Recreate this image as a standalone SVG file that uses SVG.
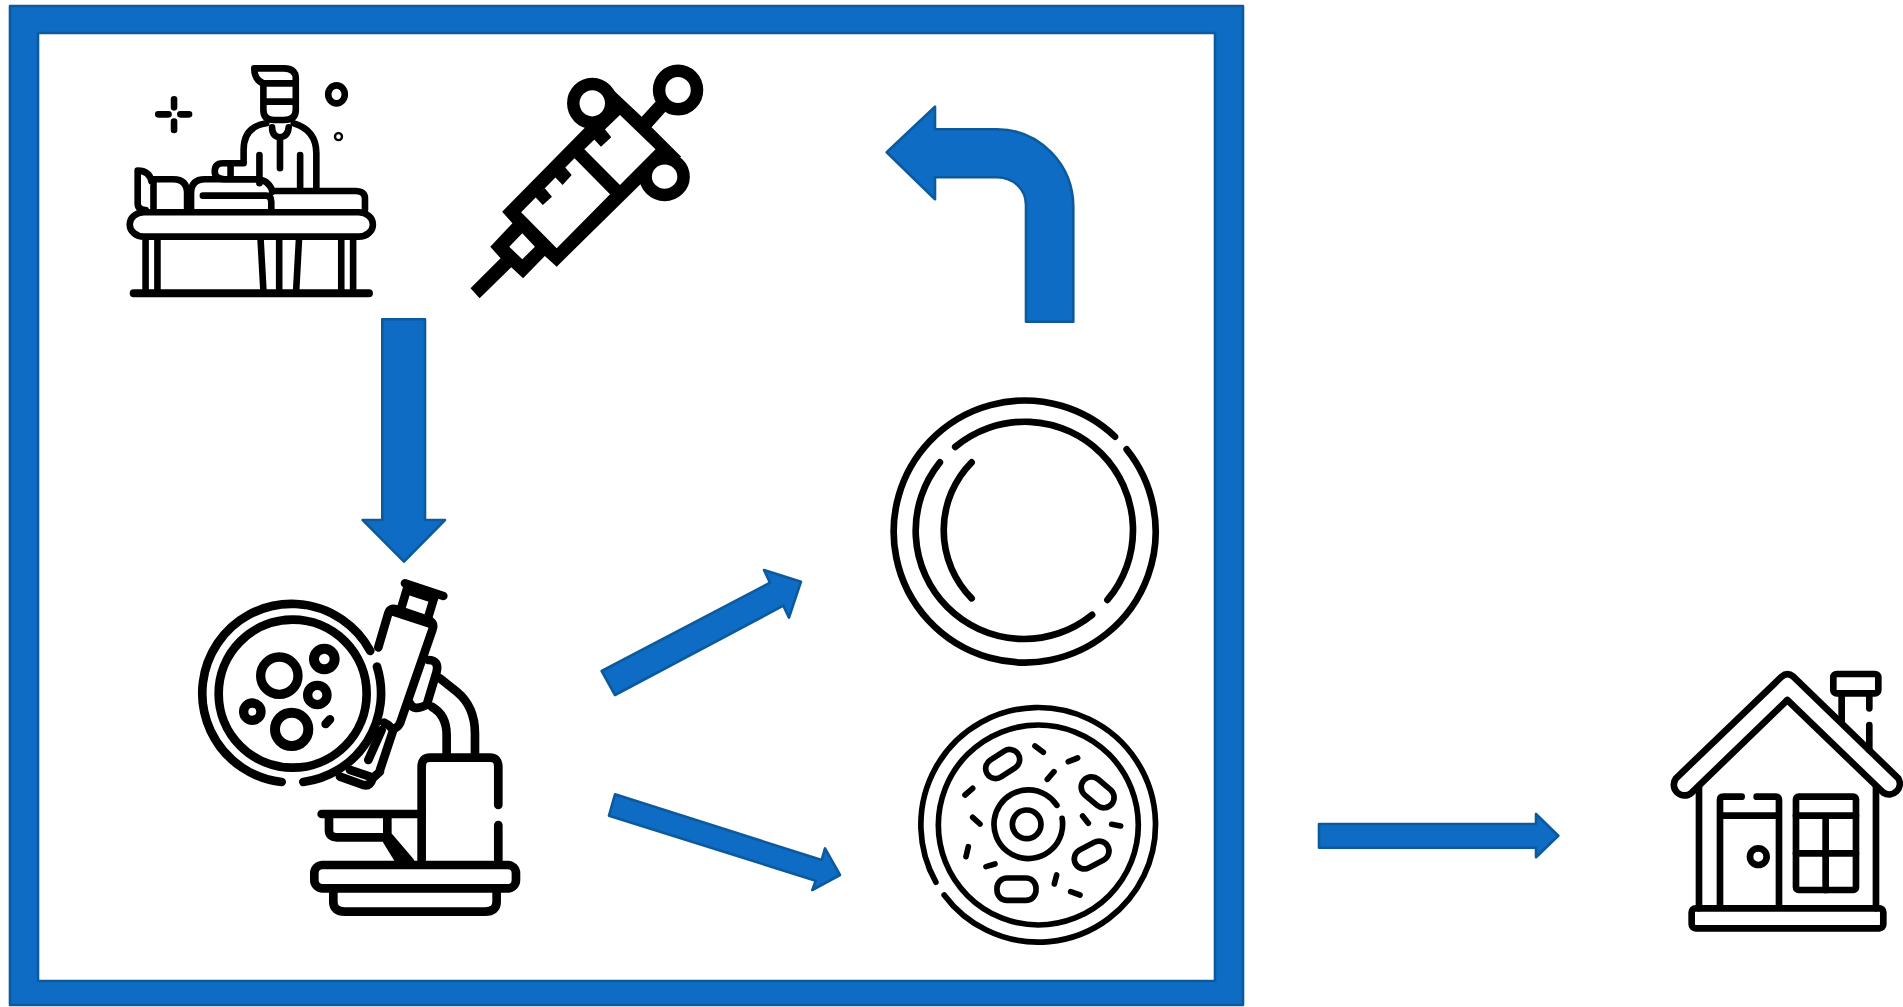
<svg xmlns="http://www.w3.org/2000/svg" width="1903" height="1007" viewBox="0 0 1903 1007">
<style>
.i{fill:none;stroke:#000;stroke-linecap:round;stroke-linejoin:round}
.a{fill:#0f6cc4;stroke:#0c5a9e;stroke-width:2.6;stroke-linejoin:round}
#doctor *,#syringe *{vector-effect:non-scaling-stroke}
</style>
<rect width="1903" height="1007" fill="#fff"/>
<path id="frame" class="a" fill-rule="evenodd" d="M10 6H1243V1005H10ZM38 33V981H1215V33Z"/>
<g id="doctor" class="i" stroke-width="6.6" transform="translate(110 50) scale(.3953 .3333)">
<rect x="50" y="487" width="615" height="73" rx="36"/>
<path stroke-width="8" d="M60 730H655"/>
<path d="M90 570V720M120 570V720M585 570V720M615 570V720M381 570L388 720M428 570V720M478 570L471 720"/>
<path d="M645 480V445Q645 423 620 423H410M205 480V430Q205 388 240 388H370Q400 388 412 425M235 437H395Q408 437 408 455V480M110 480V388H160Q195 388 195 430V480M70 362V460Q70 480 90 480M70 362Q100 362 105 395"/>
<path d="M338 340H285Q265 340 265 365Q265 385 290 388H380M305 345V385M378 315V400M338 340V300Q338 230 395 220M465 220Q522 240 522 310V415M481 315V415"/>
<path d="M410 232Q410 260 430 262Q450 260 452 232M430 262V355"/>
<path d="M388 100V180Q388 210 415 210H440Q470 210 470 180V85Q470 55 440 55H365Q365 90 388 100H470M388 155H470"/>
<path d="M162 148V172M162 215V240M122 193H148M178 193H200"/>
<ellipse cx="573" cy="133" rx="21" ry="27"/>
<ellipse cx="578" cy="260" rx="3" ry="3.5" stroke-width="7"/>
</g>
<g id="syringe" transform="translate(110 50) scale(.3953 .3333)">
<path d="M912 715L988 625L962 590L1018 520L992 485L1200 235L1255 100L1345 200L1380 155L1405 185L1370 232L1445 320L1340 405L1130 650L1100 618L1045 685L1015 652L935 745Z"/>
<ellipse cx="1220" cy="160" rx="48" ry="58" fill="#fff" stroke="#000" stroke-width="12.5"/>
<ellipse cx="1437" cy="120" rx="48" ry="58" fill="#fff" stroke="#000" stroke-width="12.5"/>
<ellipse cx="1403" cy="380" rx="48" ry="55" fill="#fff" stroke="#000" stroke-width="12.5"/>
<path fill="#fff" d="M1290 195L1380 298L1290 405L1200 298ZM1175 325L1265 433L1130 595L1040 487ZM1043 550L1075 590L1043 628L1010 590Z"/>
<path d="M1250 235L1268 262L1242 290L1222 265ZM1150 350L1168 375L1145 405L1125 380ZM1100 415L1118 440L1095 465L1075 440Z"/>
</g>
<g id="microscope" class="i" stroke-width="26" transform="translate(180 560) scale(.3333)">
<path d="M305 666A268 268 0 1 1 570.8 272.6M591 320A268 268 0 0 1 370 666"/>
<circle cx="338" cy="401" r="222"/>
<circle cx="298" cy="347" r="56" stroke-width="28"/>
<circle cx="433" cy="297" r="31" stroke-width="30"/>
<circle cx="412" cy="405" r="29" stroke-width="28"/>
<circle cx="217" cy="455" r="26" stroke-width="28"/>
<circle cx="335" cy="508" r="50" stroke-width="30"/>
<path d="M437 492L450 478"/>
<path d="M595 262L625 160Q630 142 650 148L745 180Q765 190 757 210L660 490Q645 518 625 495L612 488M640 155L748 190"/>
<path d="M675 70L790 108M683 80L665 140M765 105L745 170M695 95L750 113"/>
<path d="M745 300Q778 300 770 335L740 435Q700 455 690 430"/>
<path d="M640 510L600 630M605 510L565 600M480 650L550 675Q570 680 578 655L600 635M510 630L570 650"/>
<path d="M780 355L830 395Q885 440 885 520V590M755 440Q800 465 800 525V590"/>
<path d="M725 900V620Q725 593 750 593H930Q955 593 955 620V735M955 795V900"/>
<path d="M425 762H725M447 770V810Q447 832 470 832H625M622 770V825L690 905M620 840L660 905"/>
<rect x="403" y="915" width="605" height="70" rx="25"/>
<path d="M460 990V1025Q460 1055 495 1055H915Q950 1055 950 1025V990"/>
</g>
<g id="empty-dish" class="i" stroke-width="20" transform="translate(870 380) scale(.3333)">
<path d="M770 208A393 393 0 1 1 735 170"/>
<path d="M255.6 200.8A325 325 0 0 1 712.3 659.9M666.4 704.7A325 325 0 0 1 209.7 247.2"/>
<path d="M305 247A290 290 0 0 0 305 655"/>
</g>
<g id="culture-dish" class="i" stroke-width="17" transform="translate(900 690) scale(.3333)">
<path d="M132.4 614.9A352 352 0 1 0 107.6 576.7"/>
<circle cx="415" cy="405" r="300"/>
<path d="M486.4 385.1A103 103 0 1 1 470.9 346.1"/>
<circle cx="380" cy="403" r="43"/>
<rect x="253" y="192" width="110" height="60" rx="30" transform="rotate(-33 308 222)"/>
<rect x="538" y="276" width="110" height="62" rx="31" transform="rotate(40 593 307)"/>
<rect x="520" y="465" width="110" height="60" rx="30" transform="rotate(-28 575 495)"/>
<rect x="291" y="564" width="117" height="67" rx="30"/>
<path d="M405 168L430 187M505 215L533 204M442 268L462 245M195 315L218 295M218 382L240 402M205 470L198 500M258 530L285 522M470 555L463 582M512 605L540 615M548 378L565 400M635 403L662 408"/>
</g>
<g id="house" class="i" stroke-width="20" transform="translate(1650 650) scale(.3333)">
<path d="M78 385L395 80Q412 65 430 80L745 385A32 32 0 0 1 700 428L412 150L125 428A32 32 0 0 1 78 385Z"/>
<path d="M147 410V775M678 410V775"/>
<rect x="125" y="775" width="575" height="60" rx="12"/>
<path d="M210 770V450Q210 440 220 440H275M320 440H375Q387 440 387 450V770M210 497H387"/>
<circle cx="325" cy="620" r="25"/>
<rect x="438" y="440" width="180" height="280" rx="8"/>
<path d="M438 497H618M527 497V720M438 610H618"/>
<rect x="550" y="72" width="135" height="58" rx="10"/>
<path d="M575 130V215M658 130V175M658 225V300"/>
</g>
<g id="connectors">
<path class="a" d="M886.7 152.3L935 106.7V129.3H997C1040 129.3 1073.3 165 1073.3 207V321.7H1026V205C1026 189 1013 177.3 997 177.3H935V199.3Z"/>
<path class="a" d="M382.3 319.3H425V520H445L404 561.7L362.7 520H382.3Z"/>
<path class="a" d="M601.7 671L615 695L783.3 605.7L789 617.7L801 581.7L764 570L770 582.7Z"/>
<path class="a" d="M615 794.3L609 815.7L815.7 880.7L812.3 890L840 875L825 848.3L821.7 860Z"/>
<path class="a" d="M1319 824V847.7H1536V857.3L1558.3 835.7L1536 814V824Z"/>
</g>
</svg>
